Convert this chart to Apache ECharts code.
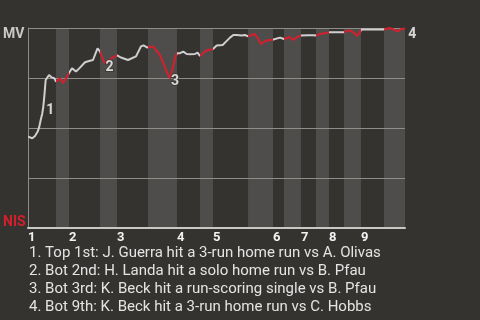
<!DOCTYPE html>
<html>
<head>
<meta charset="utf-8">
<style>
  html, body { margin: 0; padding: 0; background: #353330; }
  #chart { width: 480px; height: 320px; }
</style>
<script src="https://cdn.jsdelivr.net/npm/echarts@6/dist/echarts.min.js"></script>
</head>
<body>
<div id="chart"></div>
<script>
// Game progress (0-100) where each half-inning begins; last entry is the final out.
const halfInningEdges = [0, 7.43, 10.88, 19.10, 23.61, 31.83, 39.52, 45.62, 49.07, 58.36,
  64.99, 67.90, 72.41, 76.39, 79.84, 83.82, 88.33, 94.43, 100];
const inningLabels = ['1', '2', '3', '4', '5', '6', '7', '8', '9'];

// Win probability for MV (%) along the game.
const gameProgress = [
  0, 1.14, 1.86, 2.57, 3.0, 3.37, 3.79, 4.06, 4.32, 4.51, 4.69, 5.57, 6.29, 6.98,
  7.43, 8.49, 9.28, 10.08,
  10.88, 11.67, 12.73, 13.79, 15.12, 16.18, 17.24, 18.44,
  19.10, 19.63, 20.29, 21.09, 22.28,
  23.61, 24.85, 26.53, 28.65, 29.97, 30.64, 31.56,
  31.83, 33.24, 34.14, 35.01, 35.89, 36.79, 37.67, 38.38, 38.99,
  39.52, 40.32, 41.19, 42.10, 42.97, 44.30, 44.96,
  45.62, 46.42, 47.21, 48.01,
  49.07, 50.05, 51.64, 52.52, 53.58, 54.46, 55.36, 56.68, 57.56,
  58.36, 58.89, 60.03, 60.66, 61.80, 62.86, 63.74, 64.64,
  64.99, 66.84, 67.29,
  67.90, 69.36, 70.37, 71.27,
  72.41, 74.27, 74.80, 75.60,
  76.39, 76.92, 77.45, 78.78,
  79.84,
  83.82, 84.22, 85.01, 85.86, 86.74, 87.35, 88.06,
  88.33,
  94.43, 95.57, 96.47, 97.35, 98.22, 98.86, 99.39, 100
];
const mvWinProb = [
  45.7, 44.9, 46.0, 48.2, 50.7, 54.0, 57.3, 60.7, 65.7, 69.9, 74.0, 76.5, 75.3, 74.9,
  73.2, 74.8, 72.5, 74.8,
  77.5, 79.9, 78.2, 80.2, 82.9, 83.5, 84.0, 89.8,
  88.3, 85.5, 82.4, 83.4, 85.0,
  86.3, 85.1, 84.0, 85.8, 90.8, 91.3, 90.3,
  89.3, 90.7, 88.5, 86.5, 82.4, 78.2, 74.8, 79.9, 84.9,
  87.4, 87.4, 88.2, 87.0, 86.9, 87.0, 87.7,
  86.0, 87.5, 88.7, 89.0,
  89.5, 91.2, 91.5, 93.2, 95.2, 96.5, 96.5, 96.2, 96.5,
  95.8, 96.0, 97.0, 95.7, 92.0, 93.4, 94.0, 94.0,
  95.0, 95.2, 94.5,
  94.5, 95.5, 94.0, 95.3,
  96.3, 96.4, 95.9, 96.4,
  96.2, 96.0, 97.0, 97.4,
  97.9,
  97.9, 97.9, 98.8, 98.4, 97.2, 96.0, 97.8,
  99.2,
  99.2, 99.9, 99.7, 98.9, 98.4, 99.4, 100, 99.8
];

// Key plays: where they happen on the curve and the caption listed below the chart.
const keyPlays = [
  { no: 1, at: [4.06, 60.7], offset: [1, 4], note: 'Top 1st: J. Guerra hit a 3-run home run vs A. Olivas' },
  { no: 2, at: [20.29, 82.4], offset: [-1, 4], note: 'Bot 2nd: H. Landa hit a solo home run vs B. Pfau' },
  { no: 3, at: [37.67, 74.8], offset: [-1, 3], note: 'Bot 3rd: K. Beck hit a run-scoring single vs B. Pfau' },
  { no: 4, at: [98.22, 98.4], offset: [8, 3], note: 'Bot 9th: K. Beck hit a 3-run home run vs C. Hobbs' }
];

const TOP_COLOR = '#cfcfcf';
const BOT_COLOR = '#d51f2c';

const pieces = [];
for (let i = 0; i < halfInningEdges.length - 1; i++) {
  const last = i === halfInningEdges.length - 2;
  const p = { gte: halfInningEdges[i], color: i % 2 === 0 ? TOP_COLOR : BOT_COLOR };
  if (last) p.lte = halfInningEdges[i + 1]; else p.lt = halfInningEdges[i + 1];
  pieces.push(p);
}

const bottomBands = [];
for (let i = 1; i < halfInningEdges.length - 1; i += 2) {
  bottomBands.push([{ xAxis: halfInningEdges[i] }, { xAxis: halfInningEdges[i + 1] }]);
}
const inningStarts = halfInningEdges.filter((_, i) => i % 2 === 0 && i < halfInningEdges.length - 1);

const chart = echarts.init(document.getElementById('chart'), null, { renderer: 'canvas' });
chart.setOption({
  backgroundColor: '#353330',
  animation: false,
  grid: { left: 28, right: 75, top: 28, height: 200 },
  xAxis: {
    type: 'value', min: 0, max: 100, z: 2,
    axisLine: { show: true, lineStyle: { color: '#c8c8c6', width: 2 } },
    axisTick: { show: false },
    splitLine: { show: false },
    axisLabel: {
      customValues: inningStarts,
      formatter: v => inningLabels[inningStarts.indexOf(v)] || '',
      align: 'left', margin: 3,
      color: '#f2f2f2', fontFamily: 'Roboto', fontWeight: 'bold', fontSize: 13
    }
  },
  yAxis: {
    type: 'value', min: 0, max: 100, interval: 25, z: 2,
    axisLine: { show: true, lineStyle: { color: '#8e8d8a', width: 1 } },
    axisTick: { show: false },
    splitLine: { show: true, lineStyle: { color: '#8e8d8a', width: 1 } },
    axisLabel: {
      align: 'left', margin: 25,
      formatter: v => v === 100 ? '{mv|MV}' : v === 0 ? '{nis|NIS}' : '',
      rich: {
        mv: { color: '#c9c9c9', fontFamily: 'Roboto', fontWeight: 'bold', fontSize: 14, padding: [13, 0, 0, 0] },
        nis: { color: '#d51f2c', fontFamily: 'Roboto', fontWeight: 'bold', fontSize: 14, padding: [0, 0, 12, 0] }
      }
    }
  },
  visualMap: {
    show: false, type: 'piecewise', dimension: 0, seriesIndex: 1, pieces: pieces
  },
  series: [
    {
      type: 'line', z: 1, data: [], silent: true,
      markArea: { silent: true, itemStyle: { color: '#4e4d4b', opacity: 1 }, data: bottomBands }
    },
    {
      type: 'line', z: 3,
      data: gameProgress.map((x, i) => [x, mvWinProb[i]]),
      showSymbol: false, smooth: false,
      lineStyle: { width: 2 }
    },
    {
      type: 'scatter', z: 4, symbolSize: 0,
      data: keyPlays.map(k => ({
        value: k.at,
        label: { offset: k.offset }
      })),
      label: {
        show: true, position: 'right', distance: 2,
        formatter: p => String(keyPlays[p.dataIndex].no),
        color: '#ffffff', fontFamily: 'Roboto', fontWeight: 'bold', fontSize: 14,
        textBorderColor: '#3a3835', textBorderWidth: 2
      }
    }
  ],
  graphic: [{
    type: 'text', left: 29, top: 244,
    style: {
      text: keyPlays.map(k => k.no + '. ' + k.note).join('\n'),
      fill: '#e4e4e4', font: '15px Roboto', lineHeight: 18
    }
  }]
});
</script>
</body>
</html>
